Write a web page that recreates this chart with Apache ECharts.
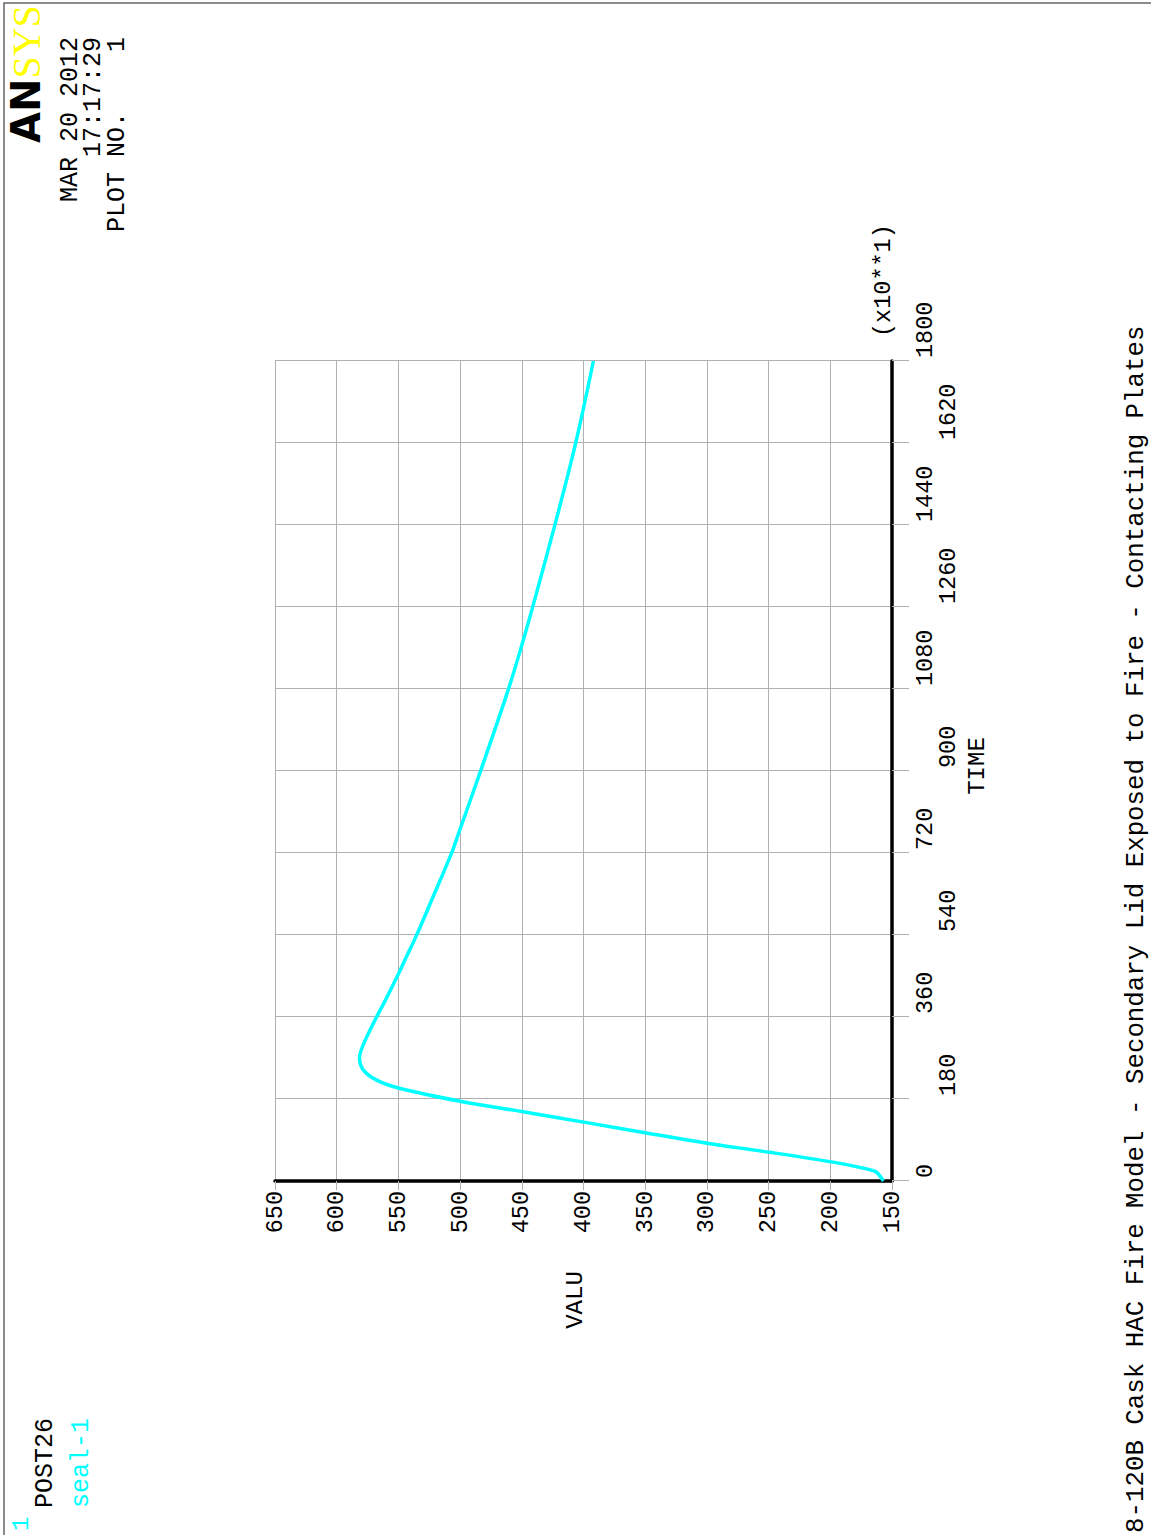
<!DOCTYPE html>
<html>
<head>
<meta charset="utf-8">
<title>POST26 seal-1</title>
<script src="https://cdn.jsdelivr.net/npm/echarts@6/dist/echarts.min.js"></script>
<style>
html, body {
  margin: 0;
  padding: 0;
  width: 1151px;
  height: 1535px;
  overflow: hidden;
  background: #ffffff;
}
/* the ANSYS page is printed landscape and turned a quarter turn */
#chart {
  position: absolute;
  left: 0;
  top: 0;
  width: 1535px;
  height: 1151px;
  transform-origin: 0 0;
  transform: translateY(1535px) rotate(-90deg);
}
</style>
</head>
<body>
<div id="chart"></div>
<script>
// TIME (x10**1)
var timeData = [0, 4, 20, 31, 42, 63, 83, 106, 127, 152, 175, 204, 222, 244, 270, 302, 353, 397, 449, 492, 538, 620, 719, 765, 899, 1078, 1176, 1257, 1437, 1618, 1800];
// seal-1 VALU
var sealData = [157, 158, 163, 178, 199, 249, 300, 350, 395, 449, 500, 550, 568, 578.5, 581.5, 578, 569, 560.5, 551, 543.5, 535.5, 522.5, 507, 501, 483.5, 461, 450, 441.5, 423.5, 406.5, 392];

var titleText = "8-120B Cask HAC Fire Model - Secondary Lid Exposed to Fire - Contacting Plates";
var headerLines = ["MAR 20 2012", "17:17:29", "PLOT NO.    1"];

var mono = "Liberation Mono";
var gridColor = "#b0b0b0";

var seriesData = [];
for (var i = 0; i < timeData.length; i++) {
  seriesData.push([timeData[i], sealData[i]]);
}

var myChart = echarts.init(document.getElementById("chart"), null, { renderer: "svg" });

myChart.setOption({
  animation: false,
  backgroundColor: "#ffffff",
  grid: {
    left: 354,
    top: 275,
    width: 820,
    height: 617,
    containLabel: false,
    outerBoundsMode: "none"
  },
  xAxis: {
    type: "value",
    min: 0,
    max: 1800,
    interval: 180,
    axisLine: {
      show: true,
      lineStyle: { color: "#000000", width: 3.5 }
    },
    axisTick: {
      show: true,
      length: 17,
      lineStyle: { color: gridColor, width: 1 }
    },
    splitLine: {
      show: true,
      lineStyle: { color: gridColor, width: 1 }
    },
    axisLabel: {
      interval: 0,
      showMinLabel: true,
      showMaxLabel: true,
      hideOverlap: false,
      margin: 22,
      align: "left",
      verticalAlign: "top",
      padding: [0, 0, 0, 3],
      lineHeight: 23,
      color: "#000000",
      fontFamily: mono,
      fontSize: 23.5,
      // ANSYS staggers the time labels
      formatter: function (value, index) {
        return index % 2 ? "\n" + value : "" + value;
      }
    }
  },
  yAxis: {
    type: "value",
    min: 150,
    max: 650,
    interval: 50,
    axisLine: {
      show: true,
      lineStyle: { color: "#000000", width: 3.5 }
    },
    axisTick: {
      show: true,
      length: 9,
      lineStyle: { color: gridColor, width: 1 }
    },
    splitLine: {
      show: true,
      lineStyle: { color: gridColor, width: 1 }
    },
    axisLabel: {
      interval: 0,
      showMinLabel: true,
      showMaxLabel: true,
      margin: 10,
      color: "#000000",
      fontFamily: mono,
      fontSize: 23.5
    }
  },
  series: [
    {
      name: "seal-1",
      type: "line",
      data: seriesData,
      smooth: 0.35,
      showSymbol: false,
      lineStyle: { color: "#00ffff", width: 3.5 },
      itemStyle: { color: "#00ffff" },
      z: 3
    }
  ],
  graphic: [
    {
      type: "rect",
      silent: true,
      shape: { x: -5, y: 4, width: 1537, height: 1160 },
      style: { fill: "none", stroke: "#666666", lineWidth: 1.5 }
    },
    {
      type: "text",
      x: 1392,
      y: 26,
      style: {
        text: "{a|AN}{b|SYS}",
        verticalAlign: "middle",
        rich: {
          a: { fontFamily: "DejaVu Sans", fontWeight: 900, fontSize: 40, fill: "#000000" },
          b: { fontFamily: "Liberation Serif", fontSize: 40, fill: "#ffff00" }
        }
      }
    },
    {
      type: "text",
      x: 1498,
      y: 70,
      style: { text: headerLines[0], align: "right", verticalAlign: "middle", fontFamily: mono, fontSize: 25, fill: "#000000" }
    },
    {
      type: "text",
      x: 1498,
      y: 93,
      style: { text: headerLines[1], align: "right", verticalAlign: "middle", fontFamily: mono, fontSize: 25, fill: "#000000" }
    },
    {
      type: "text",
      x: 1498,
      y: 117,
      style: { text: headerLines[2], align: "right", verticalAlign: "middle", fontFamily: mono, fontSize: 25, fill: "#000000" }
    },
    {
      type: "text",
      x: 4,
      y: 21,
      style: { text: "1", verticalAlign: "middle", fontFamily: mono, fontSize: 24, fill: "#00ffff" }
    },
    {
      type: "text",
      x: 27,
      y: 45,
      style: { text: "POST26", verticalAlign: "middle", fontFamily: mono, fontSize: 25, fill: "#000000" }
    },
    {
      type: "text",
      x: 27,
      y: 81,
      style: { text: "seal-1", verticalAlign: "middle", fontFamily: mono, fontSize: 25, fill: "#00ffff" }
    },
    {
      type: "text",
      x: 1198,
      y: 883,
      style: { text: "(x10**1)", verticalAlign: "middle", fontFamily: mono, fontSize: 23.5, fill: "#000000" }
    },
    {
      type: "text",
      x: 769,
      y: 977,
      style: { text: "TIME", align: "center", verticalAlign: "middle", fontFamily: mono, fontSize: 24, fill: "#000000" }
    },
    {
      type: "text",
      x: 235,
      y: 575,
      style: { text: "VALU", align: "center", verticalAlign: "middle", fontFamily: mono, fontSize: 24, fill: "#000000" }
    },
    {
      type: "text",
      x: 2,
      y: 1136,
      style: { text: titleText, verticalAlign: "middle", fontFamily: mono, fontSize: 25.8, fill: "#000000" }
    }
  ]
});
</script>
</body>
</html>
